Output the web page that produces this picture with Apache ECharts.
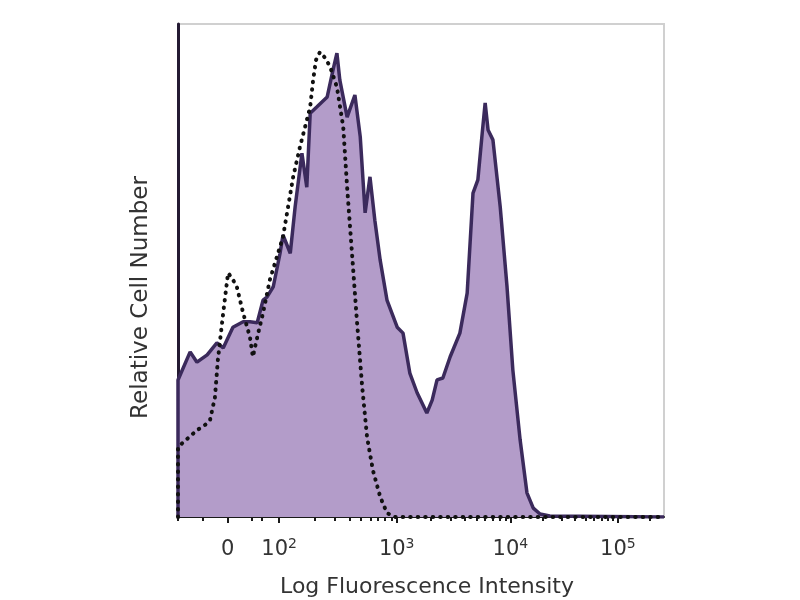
<!DOCTYPE html>
<html><head><meta charset="utf-8">
<script src="https://cdn.jsdelivr.net/npm/echarts@6/dist/echarts.min.js"></script>
<style>html,body{margin:0;padding:0;background:#fff}#c{width:800px;height:600px}</style>
</head><body><div id="c"></div>
<script>
// x in display channels (0..1000 across the plot), y in relative count (0..100)
const stainedX = [0, 0, 25, 39, 60, 80, 93, 113, 134, 148, 163, 175, 183, 196, 210, 216, 231, 241, 255, 265, 272, 286, 307, 319, 327, 333, 348, 364, 375, 385, 395, 405, 416, 430, 451, 463, 477, 492, 512, 523, 533, 545, 560, 580, 595, 607, 617, 626, 632, 638, 648, 663, 677, 689, 704, 718, 731, 745, 765, 1000];
const stainedY = [0, 27.8, 33.5, 31.4, 32.9, 35.3, 34.3, 38.5, 39.6, 39.6, 39.4, 44.0, 44.6, 46.7, 53.5, 57.2, 53.5, 62.9, 73.8, 66.9, 81.9, 83.2, 85.2, 90.7, 94.1, 88.6, 81.1, 85.6, 77.1, 61.7, 69.0, 60.2, 52.1, 44.0, 38.5, 37.3, 29.2, 25.2, 21.1, 23.7, 27.8, 28.2, 32.5, 37.3, 45.4, 65.7, 68.4, 77.9, 84.0, 78.5, 76.5, 62.9, 46.7, 29.8, 15.6, 4.9, 1.8, 0.6, 0.2, 0];
const controlX = [0, 0, 4, 39, 56, 66, 76, 82, 93, 103, 111, 121, 134, 148, 154, 165, 175, 189, 216, 237, 251, 272, 278, 284, 292, 303, 313, 327, 340, 348, 358, 368, 379, 389, 401, 416, 430, 447, 1000];
const controlY = [0, 14.2, 14.2, 17.6, 18.7, 19.7, 24.3, 31.8, 41.4, 49.5, 48.5, 46.7, 41.4, 36.5, 32.5, 37.3, 41.4, 48.1, 56.8, 69.0, 75.1, 83.2, 88.6, 92.7, 94.3, 93.1, 91.3, 87.2, 79.1, 66.9, 53.5, 40.0, 26.4, 16.2, 9.5, 4.1, 0.8, 0, 0];
const majorTicks = [102, 208, 450, 684, 905];
const majorLabels = ['0', '10|2', '10|3', '10|4', '10|5'];
const minorTicks = [0, 50, 152, 173, 281, 323, 354, 377, 396, 412, 426, 439, 520, 562, 591, 614, 632, 648, 662, 674, 751, 790, 817, 839, 856, 871, 884, 895, 971];

const zip = (xs, ys) => xs.map((x, i) => [x, ys[i]]);
const chart = echarts.init(document.getElementById('c'));
const txt = '#333333';
chart.setOption({
  animation: false,
  backgroundColor: '#ffffff',
  grid: { left: 178, right: 136, top: 24, bottom: 83, outerBoundsMode: 'none', containLabel: false, show: true, borderColor: '#d0d0d0', borderWidth: 2, backgroundColor: 'transparent' },
  xAxis: [{
    type: 'value', min: 0, max: 1000, position: 'bottom',
    name: 'Log Fluorescence Intensity', nameLocation: 'middle', nameGap: 59,
    nameTextStyle: { fontFamily: 'DejaVu Sans', fontSize: 22, color: txt, padding: [0, 0, 0, 12] },
    axisLine: { show: true, onZero: false, lineStyle: { color: '#1a1a1a', width: 2 } },
    axisTick: { show: true, customValues: majorTicks, length: 6, lineStyle: { color: '#1a1a1a', width: 2 } },
    splitLine: { show: false },
    axisLabel: {
      customValues: majorTicks, margin: 20, color: txt, fontFamily: 'DejaVu Sans',
      formatter: function (v) {
        const i = majorTicks.indexOf(v);
        const s = majorLabels[i] || '';
        const p = s.split('|');
        return p.length > 1 ? '{b|' + p[0] + '}{s|' + p[1] + '}' : '{b|' + p[0] + '}';
      },
      rich: {
        b: { fontSize: 21, lineHeight: 26, color: txt, fontFamily: 'DejaVu Sans' },
        s: { fontSize: 14, lineHeight: 14, verticalAlign: 'top', color: txt, fontFamily: 'DejaVu Sans' }
      }
    }
  }, {
    type: 'value', min: 0, max: 1000, position: 'bottom', offset: 0,
    axisLine: { show: false },
    axisTick: { show: true, customValues: minorTicks, length: 4, lineStyle: { color: '#1a1a1a', width: 2 } },
    axisLabel: { show: false }, splitLine: { show: false }
  }],
  yAxis: {
    type: 'value', min: 0, max: 100,
    name: 'Relative Cell Number', nameLocation: 'middle', nameGap: 25,
    nameTextStyle: { fontFamily: 'DejaVu Sans', fontSize: 23, color: txt, padding: [0, 54, 0, 0] },
    axisLine: { show: true, lineStyle: { color: '#241a33', width: 3 } },
    axisTick: { show: false }, axisLabel: { show: false }, splitLine: { show: false }
  },
  series: [{
    type: 'line', name: 'stained', data: zip(stainedX, stainedY), showSymbol: false, smooth: false,
    lineStyle: { color: '#3b2a5c', width: 3.5 },
    areaStyle: { color: '#b39cc9', opacity: 1 }, z: 2
  }, {
    type: 'line', name: 'control', data: zip(controlX, controlY), showSymbol: false, smooth: false,
    lineStyle: { color: '#111111', width: 4, type: [0.5, 7], cap: 'round' }, z: 3
  }]
});
</script></body></html>
